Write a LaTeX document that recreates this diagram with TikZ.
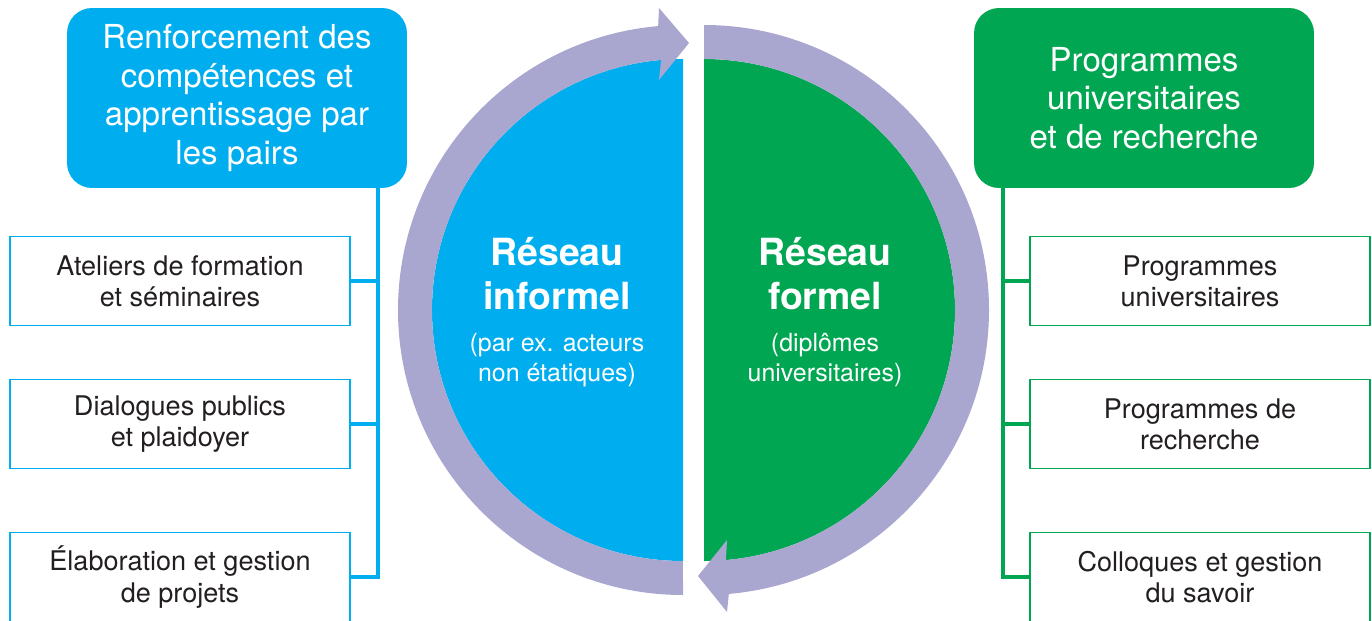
\documentclass[tikz,border=0pt]{standalone}
\usepackage{fontspec}
\setmainfont{TeX Gyre Heros}
\usetikzlibrary{positioning}

\definecolor{bleu}{HTML}{00AEEF}
\definecolor{vert}{HTML}{00A651}
\definecolor{mauve}{HTML}{A9A6D0}
\definecolor{texte}{HTML}{231F20}

\tikzset{
  titrebox/.style={rounded corners=0.5cm, minimum width=6.8cm, minimum height=3.6cm,
    text=white, align=center, font=\fontsize{18.8}{22}\selectfont},
  sousbox/.style={draw, line width=1pt, fill=white, minimum width=6.8cm, minimum height=1.78cm,
    text=texte, align=center, font=\fontsize{15.4}{17.8}\selectfont},
  reseau/.style={text=white, align=center, font=\fontsize{21.3}{25}\selectfont\bfseries},
  detail/.style={text=white, align=center, font=\fontsize{14.2}{17}\selectfont},
  lien/.style={line width=1.9pt}
}

\begin{document}
\begin{tikzpicture}[x=0.02cm,y=0.02cm]
\useasboundingbox (0,0) rectangle (1372,620);

% demi-disques
\fill[bleu] (683,561) arc[start angle=90,end angle=270,radius=251] -- cycle;
\fill[vert] (704,561) arc[start angle=90,end angle=-90,radius=251] -- cycle;

% fleches circulaires
\fill[mauve] (683,25) arc[start angle=-90,end angle=-265,radius=285]
  -- (659,612) -- (689,577) -- (659,540) -- (661.1,560.0)
  arc[start angle=95,end angle=270,radius=251] -- cycle;
\fill[mauve] (704,595) arc[start angle=90,end angle=-85,radius=285]
  -- (727,8) -- (698,44) -- (727,80) -- (725.9,60.0)
  arc[start angle=-85,end angle=90,radius=251] -- cycle;

\node[reseau] (inf) at (557,346) {Réseau\\informel};
\node[detail] (infd) at (557,260) {(par ex. acteurs\\non étatiques)};
\node[reseau] (form) at (825,346) {Réseau\\formel};
\node[detail] (formd) at (825,260) {(diplômes\\universitaires)};

% gauche
\node[titrebox, fill=bleu] (renf) at (237,522) {Renforcement des\\compétences et\\apprentissage par\\les pairs};
\node[sousbox, draw=bleu] (atel) at (180,339) {Ateliers de formation\\et séminaires};
\node[sousbox, draw=bleu] (dial) at (180,196) {Dialogues publics\\et plaidoyer};
\node[sousbox, draw=bleu] (elab) at (180,43) {Élaboration et gestion\\de projets};

% droite
\node[titrebox, fill=vert] (prog) at (1144,522) {Programmes\\universitaires\\et de recherche};
\node[sousbox, draw=vert] (univ) at (1200,339) {Programmes\\universitaires};
\node[sousbox, draw=vert] (rech) at (1200,196) {Programmes de\\recherche};
\node[sousbox, draw=vert] (coll) at (1200,43) {Colloques et gestion\\du savoir};

\coordinate (gbus) at (378,0);
\coordinate (dbus) at (1003,0);

\draw[lien, bleu] (renf.south -| gbus) |- (elab.east);
\draw[lien, bleu] (atel.east) -- (atel.east -| gbus);
\draw[lien, bleu] (dial.east) -- (dial.east -| gbus);

\draw[lien, vert] (prog.south -| dbus) |- (coll.west);
\draw[lien, vert] (univ.west) -- (univ.west -| dbus);
\draw[lien, vert] (rech.west) -- (rech.west -| dbus);
\end{tikzpicture}
\end{document}
